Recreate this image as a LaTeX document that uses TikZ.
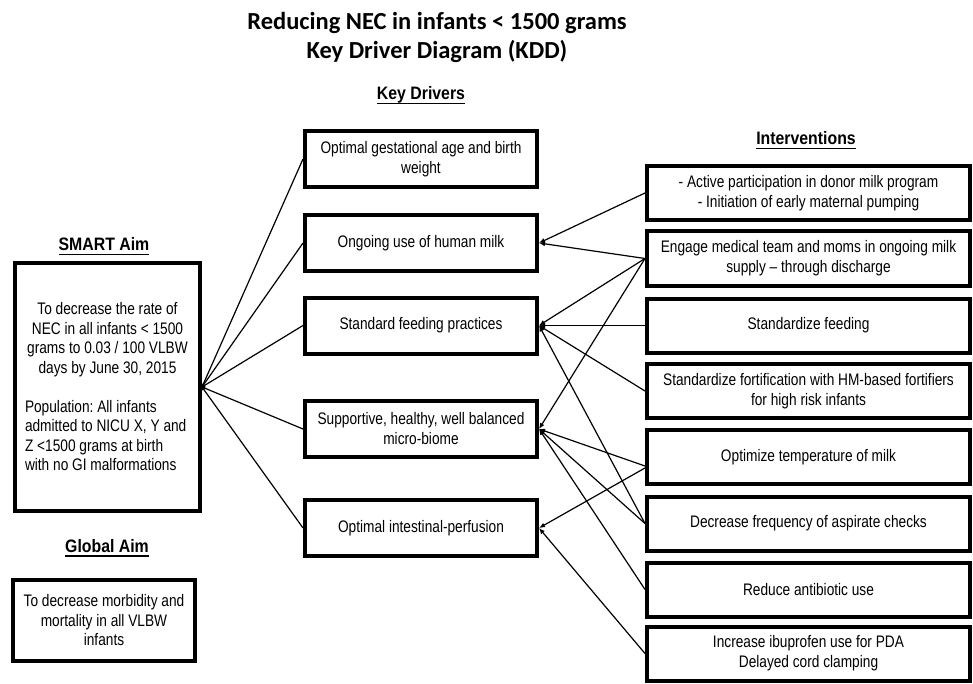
\documentclass[tikz,border=0pt]{standalone}
\usepackage{fontspec}
\usetikzlibrary{arrows.meta}
\newfontfamily\narrowfont[FakeStretch=0.82]{Liberation Sans}
\newfontfamily\headfont[FakeStretch=0.88]{Liberation Sans}
\newfontfamily\titlefont{Carlito}
\newcommand\myul[1]{\setbox0\hbox{#1}\rlap{\rule[-4.5pt]{\wd0}{1.5pt}}\box0}
\frenchspacing
\begin{document}
\begin{tikzpicture}[x=1pt,y=-1pt,
  box/.style={draw, line width=4pt, inner sep=0pt, align=center,
    font=\narrowfont\fontsize{16.7}{20}\selectfont},
  kd/.style={box, minimum width=232pt, minimum height=56pt},
  iv/.style={box, minimum width=323pt, minimum height=54pt},
  head/.style={font=\headfont\bfseries\fontsize{18}{20}\selectfont, inner sep=0pt, anchor=base},
  conn/.style={line width=1.2pt},
  arr/.style={conn, -{Latex[length=6pt,width=5pt]}}]
\useasboundingbox (0,0) rectangle (973,684);

\node[font=\titlefont\bfseries\fontsize{24.5}{28.5}\selectfont, align=center, inner sep=0pt] (title) at (437,37.5)
  {Reducing NEC in infants < 1500 grams\\Key Driver Diagram (KDD)};

\node[head] (hkd) at (421,100) {\myul{Key Drivers}};
\node[head] (hiv) at (806,145) {\myul{Interventions}};
\node[head] (hsm) at (104,251) {\myul{SMART Aim}};
\node[head] (hgl) at (107,552) {\myul{Global Aim}};

\node[box, minimum width=185pt, minimum height=248pt, font=\narrowfont\fontsize{16.7}{19.5}\selectfont] (smart) at (107.5,387)
  {\parbox{165pt}{\frenchspacing\centering To decrease the rate of\\NEC in all infants < 1500\\grams to 0.03 / 100 VLBW\\days by June 30, 2015\par
   \vspace{19.5pt}\raggedright Population: All infants\\admitted to NICU X, Y and\\Z <1500 grams at birth\\with no GI malformations\par}};
\node[box, minimum width=182pt, minimum height=81pt, font=\narrowfont\fontsize{16.7}{19.5}\selectfont] (global) at (104,620.5)
  {To decrease morbidity and\\mortality in all VLBW\\infants};

\node[kd] (k1) at (421,159) {Optimal gestational age and birth\\weight};
\node[kd] (k2) at (421,243) {Ongoing use of human milk};
\node[kd] (k3) at (421,325.5) {Standard feeding practices};
\node[kd] (k4) at (421,429) {Supportive, healthy, well balanced\\micro-biome};
\node[kd] (k5) at (421,528) {Optimal intestinal-perfusion};

\node[iv] (i1) at (808.5,193) {- Active participation in donor milk program\\- Initiation of early maternal pumping};
\node[iv] (i2) at (808.5,258.5) {Engage medical team and moms in ongoing milk\\supply – through discharge};
\node[iv] (i3) at (808.5,325.5) {Standardize feeding};
\node[iv] (i4) at (808.5,391) {Standardize fortification with HM-based fortifiers\\for high risk infants};
\node[iv] (i5) at (808.5,457) {Optimize temperature of milk};
\node[iv] (i6) at (808.5,523.5) {Decrease frequency of aspirate checks};
\node[iv] (i7) at (808.5,589.5) {Reduce antibiotic use};
\node[iv] (i8) at (808.5,653.5) {Increase ibuprofen use for PDA\\Delayed cord clamping};

\foreach \k in {k1,k2,k3,k4,k5} \draw[conn] (smart.east) -- (\k.west);
\fill (smart.east) circle (3.5pt);

\draw[arr] (i1.west) -- (k2.east);
\draw[arr] (i2.west) -- (k2.east);
\draw[arr] (i2.west) -- (k3.east);
\draw[arr] (i2.west) -- (k4.east);
\draw[arr] (i3.west) -- (k3.east);
\draw[arr] (i4.west) -- (k3.east);
\draw[arr] (i6.west) -- (k3.east);
\draw[arr] ([yshift=-9pt]i5.west) -- (k4.east);
\draw[arr] (i6.west) -- (k4.east);
\draw[arr] (i7.west) -- (k4.east);
\draw[arr] ([yshift=-11pt]i5.west) -- (k5.east);
\draw[arr] (i8.west) -- (k5.east);
\end{tikzpicture}
\end{document}
